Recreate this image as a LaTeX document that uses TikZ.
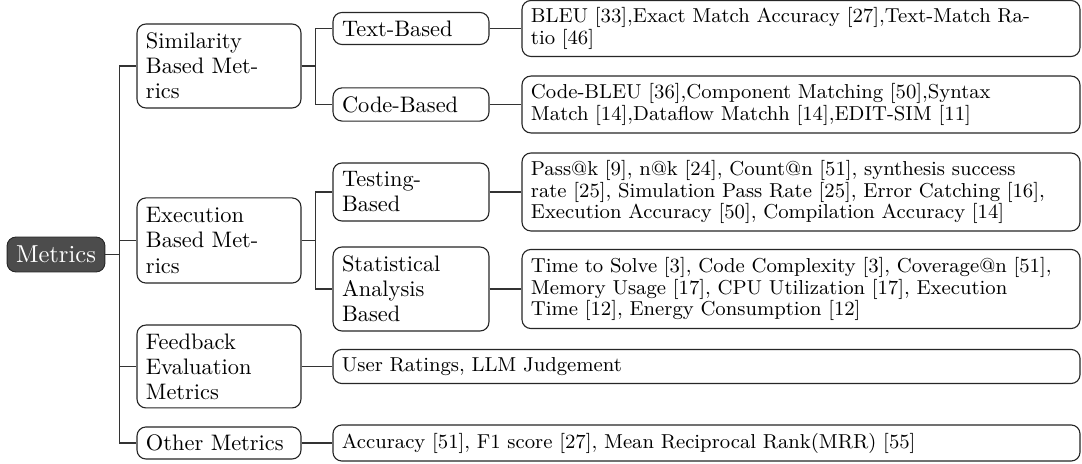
\documentclass[tikz,border=0pt]{standalone}
\usepackage{tikz}

\begin{document}
\begin{tikzpicture}[x=0.4464pt, y=-0.4464pt,
    lien/.style={draw=black!80, line width=0.6pt},
    racine/.style={draw=black!85, fill=black!70, text=white, rounded corners=4pt,
      font=\fontsize{10.95}{13}\selectfont, minimum width=43.7pt, minimum height=15.6pt, inner sep=0pt},
    boite/.style={draw=black!85, line width=0.5pt, fill=white, rounded corners=4pt, align=left,
      inner xsep=4pt, inner ysep=0pt, minimum height=#1},
    niveau/.style={boite=#1, text width=65.2pt, font=\fontsize{10}{11.2}\selectfont},
    petit/.style={boite=#1, text width=61.6pt, font=\fontsize{10}{11.2}\selectfont},
    feuille/.style={boite=#1, text width=241.1pt, font=\fontsize{9}{9.7}\selectfont},
    longue/.style={boite=#1, text width=325.5pt, font=\fontsize{9}{9.7}\selectfont}]

  \useasboundingbox (0,0) rectangle (1082,464);

  % Racine
  \node[racine] (metrics) at (56,254.5) {Metrics};

  % Premier niveau
  \foreach \nom/\y/\h/\texte in {sim/66/37.5pt/{Similarity\\Based Met-\\rics},
      exec/240.5/38pt/{Execution\\Based Met-\\rics},
      feedback/366.5/37pt/{Feedback\\Evaluation\\Metrics},
      autres/443/14.3pt/{Other Metrics}} {
    \node[niveau=\h] (\nom) at (219,\y) {\texte};
    \draw[lien] (metrics.east) -- ++(14,0) |- (\nom.west);
  }

  % Second niveau
  \node[petit=14.3pt] (textb) at (411,28.5) {Text-Based};
  \node[petit=14.8pt] (codeb) at (411,104.5) {Code-Based};
  \node[petit=25.9pt] (testb) at (411,192) {Testing-\\Based};
  \node[petit=37.5pt] (statb) at (411,289) {Statistical\\Analysis\\Based};

  \draw[lien] (sim.east) -- ++(14,0) |- (textb.west);
  \draw[lien] (sim.east) -- ++(14,0) |- (codeb.west);
  \draw[lien] (exec.east) -- ++(14,0) |- (testb.west);
  \draw[lien] (exec.east) -- ++(14,0) |- (statb.west);

  % Feuilles
  \node[feuille=25pt] (bleu) at (801,28.5)
    {BLEU [33],Exact Match Accuracy [27],Text-Match Ra-\\tio [46]};
  \node[feuille=25.4pt] (codebleu) at (801,104.5)
    {Code-BLEU [36],Component Matching [50],Syntax\\Match [14],Dataflow Matchh [14],EDIT-SIM [11]};
  \node[feuille=34.8pt] (pass) at (801,192)
    {Pass@k [9], n@k [24], Count@n [51], synthesis success\\rate [25], Simulation Pass Rate [25], Error Catching [16],\\Execution Accuracy [50], Compilation Accuracy [14]};
  \node[feuille=35.3pt] (temps) at (801,289)
    {Time to Solve [3], Code Complexity [3], Coverage@n [51],\\Memory Usage [17], CPU Utilization [17], Execution\\Time [12], Energy Consumption [12]};
  \node[longue=15.2pt] (notes) at (706.5,366.5) {User Ratings, LLM Judgement};
  \node[longue=16.1pt] (precision) at (706.5,443)
    {Accuracy [51], F1 score [27], Mean Reciprocal Rank(MRR) [55]};

  \draw[lien] (textb.east) -- (bleu.west);
  \draw[lien] (codeb.east) -- (codebleu.west);
  \draw[lien] (testb.east) -- (pass.west);
  \draw[lien] (statb.east) -- (temps.west);
  \draw[lien] (feedback.east) -- (notes.west);
  \draw[lien] (autres.east) -- (precision.west);
\end{tikzpicture}
\end{document}
